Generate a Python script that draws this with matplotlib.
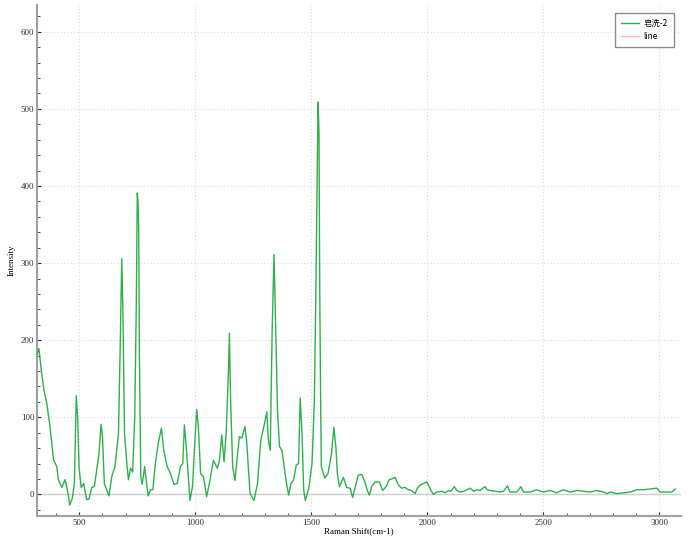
import numpy as np
import matplotlib
matplotlib.use('Agg')
import matplotlib.pyplot as plt
from matplotlib.ticker import MultipleLocator

plt.rcParams['font.family'] = ['Liberation Serif', 'Noto Sans CJK SC', 'DejaVu Sans']

# spectrum
shift = [316, 326, 338, 348, 360, 374, 389, 403, 410, 425, 439, 449, 459, 470, 479,
         487, 493, 499, 508, 519, 532, 542, 554, 565, 575, 585, 594, 600, 608, 618,
         628, 640, 654, 669, 677, 683, 688, 695, 705, 712, 721, 730, 739, 746, 750,
         753, 756, 759, 765, 771, 782, 788, 797, 807, 817, 828, 840, 854, 864, 879,
         893, 908, 922, 936, 946, 953, 962, 977, 988, 998, 1006, 1013, 1023, 1035, 1049,
         1063, 1078, 1095, 1104, 1114, 1124, 1133, 1143, 1147, 1152, 1161, 1171, 1181, 1190, 1200,
         1214, 1221, 1236, 1253, 1268, 1282, 1297, 1308, 1315, 1323, 1331, 1339, 1348, 1354, 1363,
         1373, 1383, 1391, 1402, 1412, 1423, 1435, 1445, 1452, 1460, 1467, 1474, 1489, 1503, 1513,
         1519, 1529, 1533, 1536, 1540, 1543, 1558, 1572, 1587, 1597, 1606, 1612, 1621, 1638, 1652,
         1667, 1678, 1688, 1702, 1717, 1731, 1741, 1750, 1760, 1774, 1793, 1807, 1822, 1836, 1846,
         1861, 1875, 1889, 1904, 1918, 1932, 1947, 1957, 1968, 1983, 1997, 2005, 2015, 2026, 2041,
         2062, 2077, 2091, 2101, 2116, 2127, 2141, 2156, 2170, 2185, 2199, 2213, 2228, 2239, 2249,
         2257, 2271, 2292, 2313, 2328, 2345, 2356, 2385, 2403, 2414, 2442, 2471, 2500, 2529, 2557,
         2586, 2615, 2644, 2673, 2701, 2730, 2759, 2773, 2788, 2816, 2845, 2874, 2903, 2931, 2960,
         2989, 3003, 3032, 3053, 3068]
intensity = [180, 189, 157, 135, 118, 88, 45, 36, 19, 9, 19, 6, -14, -5, 14,
             128, 100, 36, 9, 14, -7, -6, 9, 10, 31, 53, 91, 75, 14, 6,
             -2, 23, 36, 79, 200, 306, 239, 79, 40, 19, 34, 29, 100, 252, 391,
             380, 348, 187, 23, 13, 36, 19, -2, 6, 6, 40, 66, 86, 57, 36,
             27, 13, 14, 36, 40, 90, 58, -8, 10, 68, 110, 88, 27, 23, -3,
             18, 44, 34, 44, 77, 42, 79, 161, 209, 123, 36, 18, 49, 75, 73,
             88, 70, 1, -8, 14, 70, 90, 107, 70, 57, 209, 311, 196, 109, 62,
             57, 36, 18, -1, 14, 18, 38, 40, 125, 79, 6, -8, 8, 40, 122,
             252, 509, 470, 275, 122, 36, 21, 27, 53, 87, 60, 27, 10, 22, 9,
             8, -4, 8, 25, 26, 16, 5, -1, 10, 16, 16, 5, 10, 19, 20,
             22, 12, 8, 9, 6, 5, 1, 8, 12, 14, 16, 12, 5, 0, 3,
             4, 2, 5, 4, 10, 5, 3, 4, 6, 8, 4, 6, 5, 8, 10,
             6, 5, 4, 3, 4, 11, 3, 3, 10, 3, 3, 6, 3, 5, 2,
             6, 3, 5, 4, 3, 5, 3, 1, 3, 1, 2, 3, 6, 6, 7,
             8, 3, 3, 3, 7]

fig = plt.figure(figsize=(6.92, 5.38), dpi=100)
ax = fig.add_axes([0.0535, 0.041, 0.931, 0.95])

ax.axhline(0, color='#c8c8c8', lw=1, zorder=1)
ax.plot(shift, intensity, color='#2eb04f', lw=1, label='皂洗-2', zorder=3)
ax.plot([], [], color='#ffb3bb', lw=1, label='line')

ax.set_xlim(318, 3094)
ax.set_ylim(-28, 635)
ax.xaxis.set_major_locator(MultipleLocator(500))
ax.xaxis.set_minor_locator(MultipleLocator(100))
ax.yaxis.set_major_locator(MultipleLocator(100))
ax.yaxis.set_minor_locator(MultipleLocator(20))
ax.grid(which='major', color='#dcdcdc', ls=(0, (1, 2)), lw=0.8)
ax.tick_params(which='both', direction='in', colors='#333333', labelsize=6.5, pad=2)
ax.tick_params(which='major', length=3)
ax.tick_params(which='minor', length=2)

for s in ['top', 'right']:
    ax.spines[s].set_visible(False)
for s in ['left', 'bottom']:
    ax.spines[s].set_color('#a0a0a0')
    ax.spines[s].set_linewidth(1.5)

ax.set_xlabel('Raman Shift(cm-1)', fontsize=6.5, labelpad=0)
ax.set_ylabel('Intensity', fontsize=6.5, labelpad=4)

leg = ax.legend(loc='upper right', bbox_to_anchor=(0.988, 0.984), borderaxespad=0,
                fontsize=6, fancybox=False, frameon=True, handlelength=2.2,
                borderpad=0.7, labelspacing=0.5, handletextpad=0.5)
leg.get_frame().set_edgecolor('#707070')
leg.get_frame().set_linewidth(1)
for t in leg.get_texts():
    t.set_family(['Noto Sans CJK SC', 'DejaVu Sans'])

fig.savefig('out.png', dpi=100)
